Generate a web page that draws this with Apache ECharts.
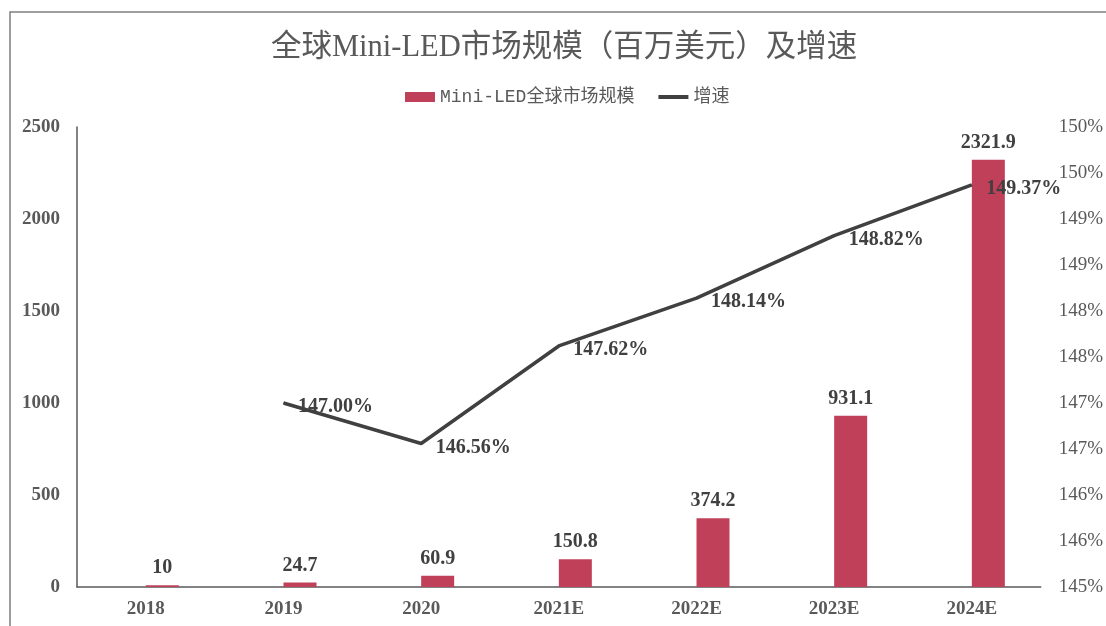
<!DOCTYPE html>
<html>
<head>
<meta charset="utf-8">
<script src="https://cdn.jsdelivr.net/npm/echarts@6/dist/echarts.min.js"></script>
<style>
html,body{margin:0;padding:0;background:#fff;}
#main{width:1106px;height:626px;}
</style>
</head>
<body>
<div id="main"></div>
<script>
const categories = ['2018', '2019', '2020', '2021E', '2022E', '2023E', '2024E'];
const marketSize = [10, 24.7, 60.9, 150.8, 374.2, 931.1, 2321.9];
const growthRate = [null, 147.00, 146.56, 147.62, 148.14, 148.82, 149.37];
const sizeTicks = [0, 500, 1000, 1500, 2000, 2500];
const rateTickLabels = ['145%', '146%', '146%', '147%', '147%', '148%', '148%', '149%', '149%', '150%', '150%'];
const placeholder = categories.map(() => null);

const chart = echarts.init(document.getElementById('main'));
const serif = "'Liberation Serif', 'Noto Sans CJK SC', serif";
chart.setOption({
  backgroundColor: '#ffffff',
  animation: false,
  graphic: [{
    type: 'rect',
    shape: { x: 10, y: 12, width: 1200, height: 700 },
    style: { fill: 'none', stroke: '#7f7f7f', lineWidth: 1.5 },
    silent: true
  }],
  title: {
    text: '全球Mini-LED市场规模（百万美元）及增速',
    left: 266,
    top: 28,
    textStyle: { fontFamily: serif, fontSize: 30.5, fontWeight: 'normal', color: '#595959' }
  },
  legend: {
    data: [
      { name: 'Mini-LED全球市场规模', icon: 'rect' },
      { name: '增速', icon: 'path://M0,0L30,0L30,4L0,4Z' }
    ],
    left: 400,
    top: 83,
    itemWidth: 30,
    itemHeight: 10,
    itemGap: 24,
    textStyle: { fontFamily: "'Liberation Mono', 'Noto Sans CJK SC', monospace", fontSize: 18, color: '#595959' }
  },
  grid: { left: 77, right: 62, top: 127, bottom: 39, containLabel: false },
  xAxis: {
    type: 'category',
    data: categories,
    axisLine: { lineStyle: { color: '#595959', width: 1.5 } },
    axisTick: { show: false },
    axisLabel: { fontFamily: serif, fontSize: 19, fontWeight: 'bold', color: '#595959', margin: 13 }
  },
  yAxis: [{
    type: 'value',
    min: sizeTicks[0],
    max: sizeTicks[sizeTicks.length - 1],
    interval: sizeTicks[1] - sizeTicks[0],
    axisLine: { show: true, lineStyle: { color: '#595959', width: 1.5 } },
    axisTick: { show: false },
    splitLine: { show: false },
    axisLabel: {
      fontFamily: serif, fontSize: 19, fontWeight: 'bold', color: '#595959', margin: 17,
      formatter: v => String(v)
    }
  }, {
    type: 'value',
    min: 145,
    max: 150,
    interval: 0.5,
    position: 'right',
    axisLine: { show: false },
    axisTick: { show: false },
    splitLine: { show: false },
    axisLabel: {
      fontFamily: serif, fontSize: 19, color: '#595959', margin: 18,
      formatter: (v, i) => rateTickLabels[i]
    }
  }],
  series: [{
    name: 'placeholder',
    type: 'bar',
    data: placeholder,
    barWidth: 33,
    barGap: '0%',
    silent: true
  }, {
    name: 'Mini-LED全球市场规模',
    type: 'bar',
    data: marketSize,
    barWidth: 33,
    barGap: '0%',
    itemStyle: { color: '#C0405A' },
    label: {
      show: true, position: 'top', distance: 7,
      fontFamily: serif, fontSize: 20, fontWeight: 'bold', color: '#404040'
    }
  }, {
    name: '增速',
    type: 'line',
    yAxisIndex: 1,
    data: growthRate,
    showSymbol: true,
    symbol: 'circle',
    symbolSize: 1,
    lineStyle: { color: '#404040', width: 3.5 },
    itemStyle: { color: '#404040' },
    label: {
      show: true, position: 'right', distance: 14, offset: [0, 4],
      fontFamily: serif, fontSize: 20, fontWeight: 'bold', color: '#404040',
      formatter: p => p.value.toFixed(2) + '%'
    }
  }]
});
</script>
</body>
</html>
